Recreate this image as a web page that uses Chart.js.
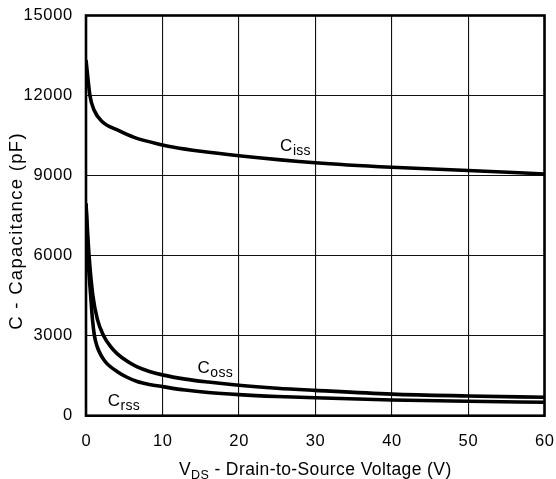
<!DOCTYPE html>
<html>
<head>
<meta charset="utf-8">
<script src="https://cdn.jsdelivr.net/npm/chart.js@4.4.1/dist/chart.umd.min.js"></script>
<style>
  html, body { margin: 0; padding: 0; background: #fff; }
  #wrap { width: 556px; height: 479px; }
</style>
</head>
<body>
<div id="wrap"><canvas id="c"></canvas></div>
<script>
// Data
const cissV = [0, 0.52, 1.05, 2.13, 4.1, 6.3, 10, 11.5, 15, 20, 30, 40, 50, 60];
const cissC = [13330, 11990, 11460, 11020, 10710, 10430, 10150, 10060, 9910, 9745, 9480, 9310, 9190, 9060];

const cossV = [0, 0.4, 0.9, 1.5, 2.3, 3.2, 4.1, 5.5, 6.7, 8.3, 10, 13, 16, 20, 25, 30, 40, 50, 60];
const cossC = [7950, 6000, 4500, 3600, 3000, 2600, 2320, 2020, 1830, 1660, 1530, 1370, 1260, 1140, 1030, 950, 810, 740, 690];

const crssV = [0, 0.25, 0.6, 0.85, 1.1, 1.45, 1.9, 2.4, 3.0, 4.1, 5.3, 6.7, 8.3, 10, 13, 16, 20, 25, 30, 40, 50, 60];
const crssC = [7950, 6000, 4550, 3600, 3000, 2600, 2300, 2070, 1880, 1650, 1450, 1280, 1170, 1090, 960, 870, 790, 720, 670, 590, 540, 505];

const xTicks = [0, 10, 20, 30, 40, 50, 60];
const yTicks = [0, 3000, 6000, 9000, 12000, 15000];

const seriesLabels = [
  { main: 'C', sub: 'iss', x: 25.4, y: 9930 },
  { main: 'C', sub: 'oss', x: 14.6, y: 1590 },
  { main: 'C', sub: 'rss', x: 2.84, y: 375 }
];

const xTitleMain = 'V';
const xTitleSub = 'DS';
const xTitleRest = ' - Drain-to-Source Voltage (V)';
const yTitle = 'C - Capacitance (pF)';

const FONT = '"Liberation Sans", Arial, Helvetica, sans-serif';

function toXY(xs, ys) { return xs.map((x, i) => ({ x: x, y: ys[i] })); }

const lineStyle = {
  borderColor: '#000',
  borderWidth: 3.6,
  pointRadius: 0,
  fill: false,
  cubicInterpolationMode: 'monotone'
};

function spacedText(ctx, text, x, y, spacing) {
  ctx.letterSpacing = spacing + 'px';
  ctx.fillText(text, x, y);
  ctx.letterSpacing = '0px';
}

const overlay = {
  id: 'overlay',
  afterDatasetsDraw(chart) {
    const ctx = chart.ctx;
    const a = chart.chartArea;
    const xs = chart.scales.x, ys = chart.scales.y;
    ctx.save();
    // frame
    ctx.strokeStyle = '#000';
    ctx.lineWidth = 2.6;
    ctx.strokeRect(a.left, a.top, a.right - a.left, a.bottom - a.top);
    ctx.fillStyle = '#000';

    // tick labels
    ctx.font = '16.5px ' + FONT;
    ctx.textBaseline = 'middle';
    ctx.textAlign = 'center';
    xTicks.forEach(v => {
      spacedText(ctx, String(v), xs.getPixelForValue(v) + 0.35, 441, 0.7);
    });
    ctx.textAlign = 'right';
    yTicks.forEach(v => {
      spacedText(ctx, String(v), 73, ys.getPixelForValue(v), 0.7);
    });

    // series labels
    ctx.textBaseline = 'alphabetic';
    ctx.textAlign = 'left';
    seriesLabels.forEach(l => {
      const px = xs.getPixelForValue(l.x);
      const py = ys.getPixelForValue(l.y);
      ctx.font = '17px ' + FONT;
      ctx.fillText(l.main, px, py);
      const w = ctx.measureText(l.main).width;
      ctx.font = '14px ' + FONT;
      spacedText(ctx, l.sub, px + w + 0.5, py + 4, 0.3);
    });

    // x title with subscript
    const sp = 0.4;
    ctx.letterSpacing = sp + 'px';
    ctx.font = '17.5px ' + FONT;
    const wM = ctx.measureText(xTitleMain).width;
    const wR = ctx.measureText(xTitleRest).width;
    ctx.font = '12.5px ' + FONT;
    const wS = ctx.measureText(xTitleSub).width;
    const total = wM + wS + wR;
    const cx = (a.left + a.right) / 2;
    const x0 = cx - total / 2;
    const by = 475;
    ctx.font = '17.5px ' + FONT;
    ctx.fillText(xTitleMain, x0, by);
    ctx.font = '12.5px ' + FONT;
    ctx.fillText(xTitleSub, x0 + wM, by + 4);
    ctx.font = '17.5px ' + FONT;
    ctx.fillText(xTitleRest, x0 + wM + wS, by);

    // y title
    ctx.letterSpacing = '1.3px';
    ctx.font = '18.5px ' + FONT;
    ctx.translate(16.5, 231);
    ctx.rotate(-Math.PI / 2);
    ctx.textAlign = 'center';
    ctx.textBaseline = 'middle';
    ctx.fillText(yTitle, 0, 0);
    ctx.letterSpacing = '0px';
    ctx.restore();
  }
};

new Chart(document.getElementById('c'), {
  type: 'line',
  data: {
    datasets: [
      Object.assign({ label: 'Ciss', data: toXY(cissV, cissC) }, lineStyle),
      Object.assign({ label: 'Coss', data: toXY(cossV, cossC) }, lineStyle),
      Object.assign({ label: 'Crss', data: toXY(crssV, crssC) }, lineStyle)
    ]
  },
  options: {
    responsive: true,
    maintainAspectRatio: false,
    animation: false,
    layout: { padding: { top: 15.5, right: 11.5, left: 0, bottom: 0 } },
    plugins: { legend: { display: false }, tooltip: { enabled: false } },
    scales: {
      x: {
        type: 'linear',
        min: 0, max: 60,
        afterBuildTicks(scale) { scale.ticks = xTicks.map(v => ({ value: v })); },
        afterFit(scale) { scale.height = 63.3; },
        grid: { color: '#111', lineWidth: 1.1, drawTicks: false },
        border: { display: false },
        ticks: { display: false }
      },
      y: {
        type: 'linear',
        min: 0, max: 15000,
        afterBuildTicks(scale) { scale.ticks = yTicks.map(v => ({ value: v })); },
        afterFit(scale) { scale.width = 86; },
        grid: { color: '#111', lineWidth: 1.1, drawTicks: false },
        border: { display: false },
        ticks: { display: false }
      }
    }
  },
  plugins: [overlay]
});
</script>
</body>
</html>
